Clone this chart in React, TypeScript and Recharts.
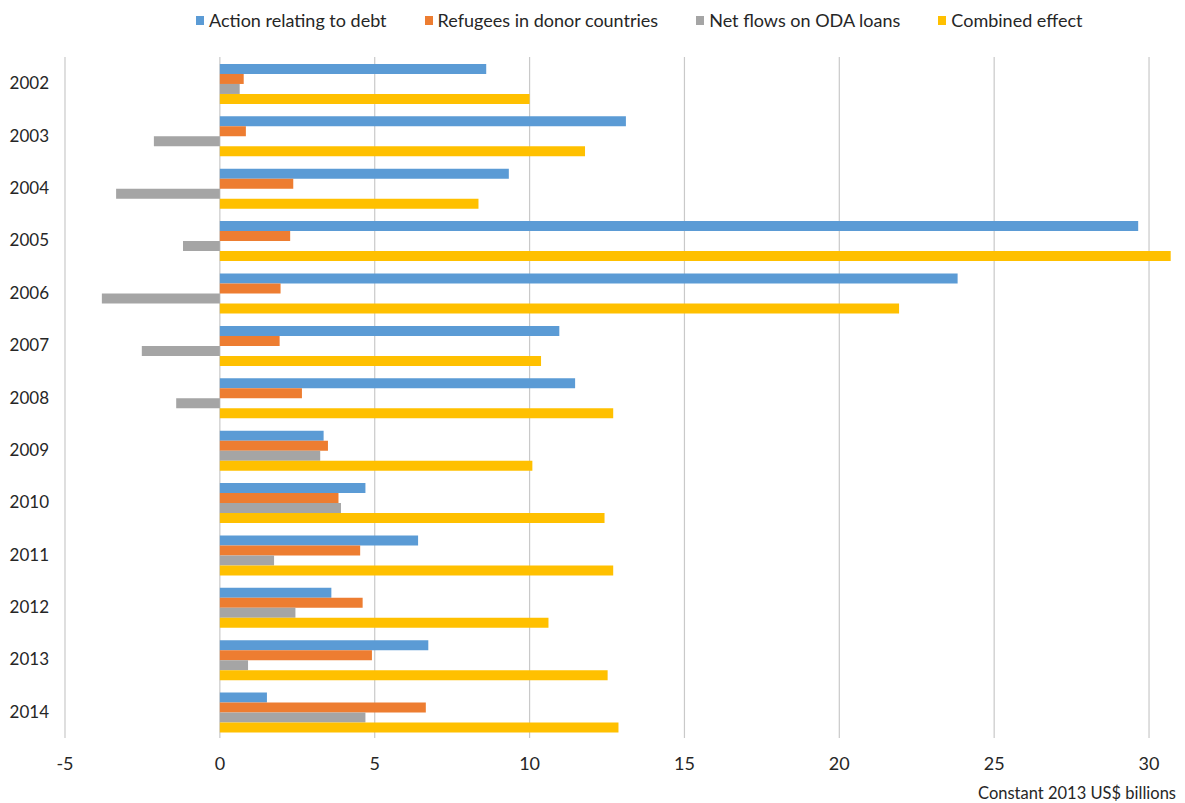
import React from 'react';
import { BarChart, Bar, XAxis, YAxis, CartesianGrid } from 'recharts';

const years = ['2002','2003','2004','2005','2006','2007','2008','2009','2010','2011','2012','2013','2014'];
const debtAction = [8.6, 13.11, 9.33, 29.65, 23.82, 10.96, 11.47, 3.35, 4.7, 6.4, 3.6, 6.73, 1.52];
const refugees = [0.77, 0.84, 2.37, 2.27, 1.96, 1.93, 2.65, 3.49, 3.83, 4.53, 4.61, 4.91, 6.65];
const netFlows = [0.64, -2.13, -3.35, -1.19, -3.81, -2.52, -1.41, 3.24, 3.91, 1.75, 2.44, 0.91, 4.7];
const combined = [10.0, 11.79, 8.35, 30.7, 21.93, 10.37, 12.7, 10.09, 12.42, 12.7, 10.61, 12.52, 12.87];
const xTicks = [-5, 0, 5, 10, 15, 20, 25, 30];

const series = [
  { key: 'debt', name: 'Action relating to debt', color: '#5B9BD5', values: debtAction },
  { key: 'refugees', name: 'Refugees in donor countries', color: '#ED7D31', values: refugees },
  { key: 'net', name: 'Net flows on ODA loans', color: '#A5A5A5', values: netFlows },
  { key: 'combined', name: 'Combined effect', color: '#FFC000', values: combined },
];

const data = years.map((y, i) => {
  const row: Record<string, any> = { year: y };
  series.forEach(s => { row[s.key] = s.values[i]; });
  return row;
});

const FONT = 'Lato, "Open Sans", sans-serif';
const TEXT = '#262626';

export default function App() {
  return (
    <div style={{ position: 'absolute', left: 0, top: 0, width: 1185, height: 803, background: '#fff', fontFamily: FONT }}>
      <div style={{ position: 'absolute', top: 9, left: 196, display: 'flex', justifyContent: 'flex-start', gap: 38, whiteSpace: 'nowrap' }}>
        {series.map(s => (
          <div key={s.key} style={{ display: 'flex', alignItems: 'center', fontSize: 18, color: TEXT }}>
            <span style={{ display: 'inline-block', width: 8, height: 9, background: s.color, marginRight: 5 }} />
            <span>{s.name}</span>
          </div>
        ))}
      </div>
      <BarChart
        width={1185}
        height={803}
        data={data}
        layout="vertical"
        margin={{ top: 57, right: 5, left: 0, bottom: 0 }}
        barCategoryGap="13.3%"
        barGap={0}
      >
        <CartesianGrid horizontal={false} vertical={true} syncWithTicks stroke="#c9c9c9" strokeWidth={1.2} />
        <XAxis
          type="number"
          domain={[-5, 31]}
          ticks={xTicks}
          allowDataOverflow
          axisLine={false}
          tickLine={false}
          tickMargin={13}
          height={65}
          tick={{ fill: TEXT, fontSize: 18, fontFamily: FONT }}
          label={{ value: 'Constant 2013 US$ billions', position: 'insideBottomRight', offset: 4, fill: TEXT, fontSize: 16.5, fontFamily: FONT }}
        />
        <YAxis
          type="category"
          dataKey="year"
          width={65}
          axisLine={false}
          tickLine={false}
          tickMargin={10}
          tick={{ fill: TEXT, fontSize: 17, fontFamily: FONT }}
        />
        {series.map(s => (
          <Bar key={s.key} dataKey={s.key} name={s.name} fill={s.color} isAnimationActive={false} />
        ))}
      </BarChart>
    </div>
  );
}
